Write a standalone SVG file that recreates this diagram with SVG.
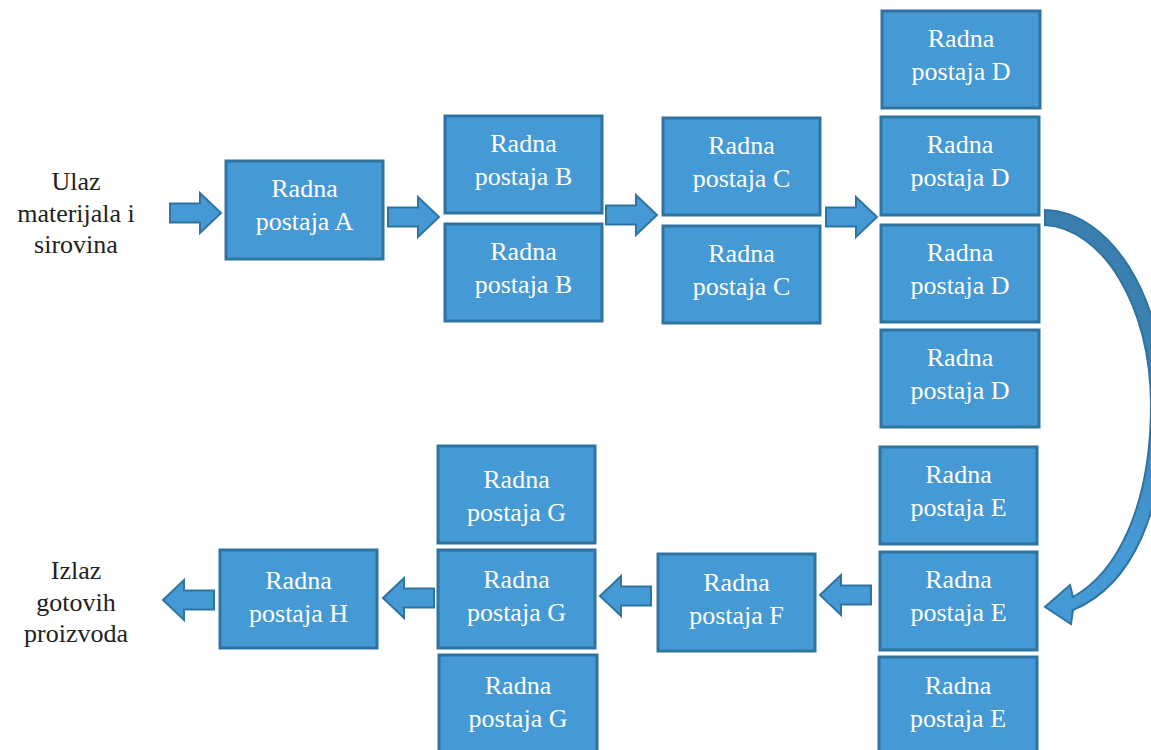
<svg xmlns="http://www.w3.org/2000/svg" xmlns:xlink="http://www.w3.org/1999/xlink" width="1151" height="750" viewBox="0 0 1151 750">
  <style>
    .box { fill: #4599d4; stroke: #2f74a0; stroke-width: 3; }
    .lbl { font-family: "Liberation Serif", "Times New Roman", serif; font-size: 26px; fill: #ffffff; text-anchor: middle; }
    .side { font-family: "Liberation Serif", "Times New Roman", serif; font-size: 26px; fill: #222222; text-anchor: middle; }
    .blk { fill: #4599d4; stroke: #2f74a0; stroke-width: 2; stroke-linejoin: miter; }
  </style>
  <defs>
    <!-- block arrow pointing right, origin at tail centre -->
    <path id="arrowR" d="M0,-9.5 H30 V-20 L51,0 L30,20 V9.5 H0 Z"/>
    <!-- block arrow pointing left, origin at tip -->
    <path id="arrowL" d="M0,0 L21,-20 V-9.5 H51 V9.5 H21 V20 Z"/>
    <linearGradient id="bend" x1="0" y1="210" x2="0" y2="625" gradientUnits="userSpaceOnUse">
      <stop offset="0" stop-color="#397ead"/>
      <stop offset="0.45" stop-color="#3b82b4"/>
      <stop offset="0.8" stop-color="#4599d4"/>
      <stop offset="1" stop-color="#4599d4"/>
    </linearGradient>
  </defs>

  <!-- side captions -->
  <g id="input-label">
    <text class="side" x="76" y="190">Ulaz</text>
    <text class="side" x="76" y="222">materijala i</text>
    <text class="side" x="76" y="253">sirovina</text>
  </g>
  <g id="output-label">
    <text class="side" x="76" y="579">Izlaz</text>
    <text class="side" x="76" y="611">gotovih</text>
    <text class="side" x="76" y="642">proizvoda</text>
  </g>

  <!-- work stations -->
  <g id="station-A">
    <rect class="box" x="226" y="161" width="157" height="98"/>
    <text class="lbl" x="304.5" y="197">Radna</text>
    <text class="lbl" x="304.5" y="230">postaja A</text>
  </g>
  <g id="station-B1">
    <rect class="box" x="445" y="116" width="157" height="97"/>
    <text class="lbl" x="523.5" y="152">Radna</text>
    <text class="lbl" x="523.5" y="185">postaja B</text>
  </g>
  <g id="station-B2">
    <rect class="box" x="445" y="224" width="157" height="97"/>
    <text class="lbl" x="523.5" y="260">Radna</text>
    <text class="lbl" x="523.5" y="293">postaja B</text>
  </g>
  <g id="station-C1">
    <rect class="box" x="663" y="118" width="157" height="97"/>
    <text class="lbl" x="741.5" y="154">Radna</text>
    <text class="lbl" x="741.5" y="187">postaja C</text>
  </g>
  <g id="station-C2">
    <rect class="box" x="663" y="226" width="157" height="97"/>
    <text class="lbl" x="741.5" y="262">Radna</text>
    <text class="lbl" x="741.5" y="295">postaja C</text>
  </g>
  <g id="station-D0">
    <rect class="box" x="882" y="11" width="158" height="97"/>
    <text class="lbl" x="961" y="47">Radna</text>
    <text class="lbl" x="961" y="80">postaja D</text>
  </g>
  <g id="station-D1">
    <rect class="box" x="881" y="117" width="158" height="98"/>
    <text class="lbl" x="960" y="153">Radna</text>
    <text class="lbl" x="960" y="186">postaja D</text>
  </g>
  <g id="station-D2">
    <rect class="box" x="881" y="225" width="158" height="97"/>
    <text class="lbl" x="960" y="261">Radna</text>
    <text class="lbl" x="960" y="294">postaja D</text>
  </g>
  <g id="station-D3">
    <rect class="box" x="881" y="330" width="158" height="97"/>
    <text class="lbl" x="960" y="366">Radna</text>
    <text class="lbl" x="960" y="399">postaja D</text>
  </g>
  <g id="station-E1">
    <rect class="box" x="880" y="447" width="157" height="97"/>
    <text class="lbl" x="958.5" y="483">Radna</text>
    <text class="lbl" x="958.5" y="516">postaja E</text>
  </g>
  <g id="station-E2">
    <rect class="box" x="880" y="552" width="157" height="98"/>
    <text class="lbl" x="958.5" y="588">Radna</text>
    <text class="lbl" x="958.5" y="621">postaja E</text>
  </g>
  <g id="station-E3">
    <rect class="box" x="879" y="657" width="158" height="98"/>
    <text class="lbl" x="958" y="694">Radna</text>
    <text class="lbl" x="958" y="727">postaja E</text>
  </g>
  <g id="station-F">
    <rect class="box" x="658" y="554" width="157" height="97"/>
    <text class="lbl" x="736.5" y="591">Radna</text>
    <text class="lbl" x="736.5" y="624">postaja F</text>
  </g>
  <g id="station-G1">
    <rect class="box" x="438" y="446" width="157" height="97"/>
    <text class="lbl" x="516.5" y="488">Radna</text>
    <text class="lbl" x="516.5" y="521">postaja G</text>
  </g>
  <g id="station-G2">
    <rect class="box" x="438" y="550" width="157" height="98"/>
    <text class="lbl" x="516.5" y="588">Radna</text>
    <text class="lbl" x="516.5" y="621">postaja G</text>
  </g>
  <g id="station-G3">
    <rect class="box" x="439" y="655" width="158" height="98"/>
    <text class="lbl" x="518" y="694">Radna</text>
    <text class="lbl" x="518" y="727">postaja G</text>
  </g>
  <g id="station-H">
    <rect class="box" x="220" y="550" width="157" height="98"/>
    <text class="lbl" x="298.5" y="589">Radna</text>
    <text class="lbl" x="298.5" y="622">postaja H</text>
  </g>

  <!-- flow arrows -->
  <g id="connectors">
    <use xlink:href="#arrowR" class="blk" transform="translate(170,213)"/>
    <use xlink:href="#arrowR" class="blk" transform="translate(388,217)"/>
    <use xlink:href="#arrowR" class="blk" transform="translate(606,215)"/>
    <use xlink:href="#arrowR" class="blk" transform="translate(826,217)"/>
    <use xlink:href="#arrowL" class="blk" transform="translate(820,595)"/>
    <use xlink:href="#arrowL" class="blk" transform="translate(600,596)"/>
    <use xlink:href="#arrowL" class="blk" transform="translate(383,598)"/>
    <use xlink:href="#arrowL" class="blk" transform="translate(163,600)"/>
    <!-- curved return arrow from D to E, running past the right edge -->
    <path fill="url(#bend)" stroke="#2f74a0" stroke-width="2" stroke-linejoin="miter"
          d="M1045,210 C1112,212 1165,300 1165,405 C1165,510 1133,585 1073,610 L1071,624 L1045,607 L1070,585 L1073,597 C1118,572 1151,505 1151,405 C1151,305 1102,228 1045,225 Z"/>
  </g>
</svg>
